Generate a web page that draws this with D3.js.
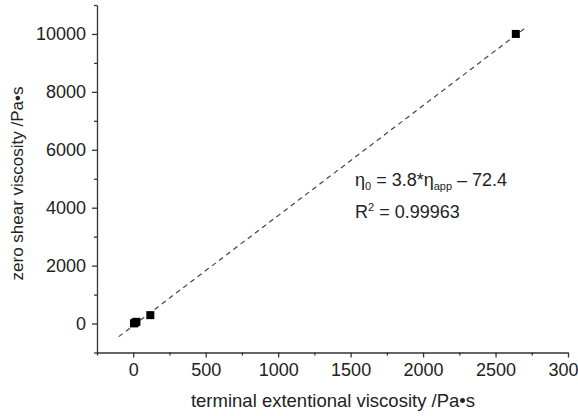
<!DOCTYPE html>
<html>
<head>
<meta charset="utf-8">
<script src="https://cdn.jsdelivr.net/npm/d3@7"></script>
<style>
  body { margin: 0; background: #fff; }
  svg { display: block; font-family: "Liberation Sans", Arial, sans-serif; }
</style>
</head>
<body>
<svg id="chart" width="578" height="416"></svg>
<script>
// Measured samples: terminal extensional viscosity vs zero shear viscosity (Pa·s)
const extViscosity = [5, 12, 22, 118, 2640];
const zeroShear = [5, 30, 60, 290, 10000];

// Linear fit η0 = slope * η_app + intercept
const fitSlope = 3.8;
const fitIntercept = -72.4;
const fitRange = [-100, 2720];

const xTicks = [0, 500, 1000, 1500, 2000, 2500, 3000];
const yTicks = [0, 2000, 4000, 6000, 8000, 10000];

const svg = d3.select("#chart");
const textColor = "#222";
const labelFont = "18px";

const x = d3.scaleLinear().domain([-250, 3000]).range([97, 568]);
const y = d3.scaleLinear().domain([-1000, 11000]).range([352.5, 5]);

// Bottom axis: major ticks every 500, minor every 250
const xAxisG = svg.append("g").attr("transform", `translate(0,${y(-1000)})`);
xAxisG.call(d3.axisBottom(x).tickValues(xTicks).tickSize(5).tickSizeOuter(0).tickPadding(6).tickFormat(d3.format("d")));
xAxisG.append("g").call(d3.axisBottom(x).tickValues(d3.range(-250, 3000, 500)).tickSize(3).tickFormat("")).select(".domain").remove();

// Left axis: major ticks every 2000, minor every 1000
const yAxisG = svg.append("g").attr("transform", `translate(${x(-250)},0)`);
yAxisG.call(d3.axisLeft(y).tickValues(yTicks).tickSize(5).tickSizeOuter(0).tickPadding(6).tickFormat(d3.format("d")));
yAxisG.append("g").call(d3.axisLeft(y).tickValues(d3.range(-1000, 11001, 2000)).tickSize(3).tickFormat("")).select(".domain").remove();

svg.selectAll(".domain").attr("stroke", "#333").attr("stroke-width", 1.3);
svg.selectAll(".tick line").attr("stroke", "#333").attr("stroke-width", 1.3);
svg.selectAll(".tick text").attr("fill", textColor).style("font-size", labelFont).style("font-family", "'Liberation Sans', Arial, sans-serif");

// Fit line
svg.append("line")
  .attr("x1", x(fitRange[0])).attr("y1", y(fitSlope * fitRange[0] + fitIntercept))
  .attr("x2", x(fitRange[1])).attr("y2", y(fitSlope * fitRange[1] + fitIntercept))
  .attr("stroke", "#444").attr("stroke-width", 1.2).attr("stroke-dasharray", "5,4");

// Data markers
const pts = extViscosity.map((v, i) => [v, zeroShear[i]]);
const s = 8;
svg.append("g").selectAll("rect").data(pts).join("rect")
  .attr("x", d => x(d[0]) - s / 2).attr("y", d => y(d[1]) - s / 2)
  .attr("width", s).attr("height", s).attr("fill", "#000");

// Axis titles
svg.append("text")
  .attr("x", 333).attr("y", 407).attr("text-anchor", "middle")
  .attr("fill", textColor).style("font-size", "18.5px")
  .text("terminal extentional viscosity /Pa•s");

svg.append("text")
  .attr("transform", "translate(23,183.5) rotate(-90)")
  .attr("text-anchor", "middle")
  .attr("fill", textColor).style("font-size", "17px")
  .text("zero shear viscosity /Pa•s");

// Fit equation
const eq = svg.append("text").attr("x", 355).attr("y", 186).attr("fill", textColor).style("font-size", labelFont);
eq.append("tspan").text("η");
eq.append("tspan").attr("dy", 4).style("font-size", "11px").text("0");
eq.append("tspan").attr("dy", -4).text(" = 3.8*η");
eq.append("tspan").attr("dy", 4).style("font-size", "11px").text("app");
eq.append("tspan").attr("dy", -4).text(" – " + Math.abs(fitIntercept));

const r2 = svg.append("text").attr("x", 355).attr("y", 218).attr("fill", textColor).style("font-size", labelFont);
r2.append("tspan").text("R");
r2.append("tspan").attr("dy", -7).style("font-size", "11px").text("2");
r2.append("tspan").attr("dy", 7).text(" = 0.99963");
</script>
</body>
</html>
